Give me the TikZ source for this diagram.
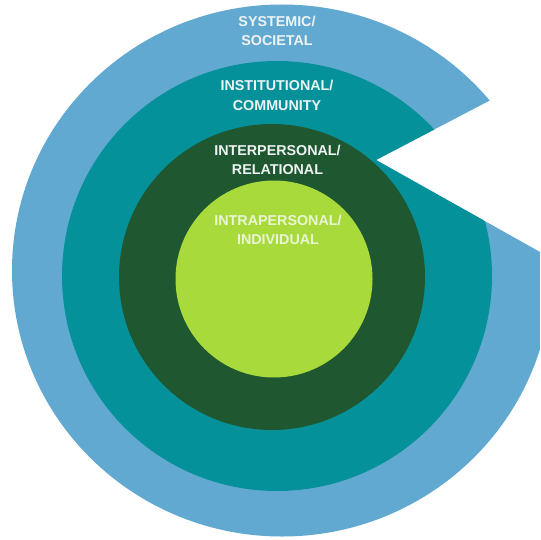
\documentclass[tikz,border=0pt]{standalone}
\usepackage{fontspec}
\setmainfont{Liberation Sans}
\definecolor{sysblue}{HTML}{62A9D1}
\definecolor{insteal}{HTML}{05919A}
\definecolor{interdark}{HTML}{1F5830}
\definecolor{intralight}{HTML}{A9DA3C}
\definecolor{labelwhite}{HTML}{EEF3F3}
\definecolor{labelpale}{HTML}{EAF5D6}
\begin{document}
\begin{tikzpicture}[x=1pt,y=-1pt,
  ringlabel/.style={text=labelwhite,font=\fontsize{14.3}{19.5}\selectfont\bfseries,align=center,inner sep=0pt}]
\useasboundingbox (0,0) rectangle (540,540);
\fill[white] (0,0) rectangle (540,540);
\begin{scope}
  \clip (0,0) -- (540,0) -- (540,74.2) -- (376,160) -- (540,252) -- (540,540) -- (0,540) -- cycle;
  \fill[sysblue] (282,270.5) ellipse[x radius=270pt,y radius=266pt];
  \fill[insteal] (277,276) circle[radius=215pt];
\end{scope}
\fill[interdark] (272,277) circle[radius=153pt];
\fill[intralight] (274,279) circle[radius=98.5pt];
\node[ringlabel] (sys) at (277,31) {SYSTEMIC/\\SOCIETAL};
\node[ringlabel] (inst) at (277,95.5) {INSTITUTIONAL/\\COMMUNITY};
\node[ringlabel] (inter) at (277.5,160) {INTERPERSONAL/\\RELATIONAL};
\node[ringlabel,text=labelpale] (intra) at (278,230) {INTRAPERSONAL/\\INDIVIDUAL};
\end{tikzpicture}
\end{document}
